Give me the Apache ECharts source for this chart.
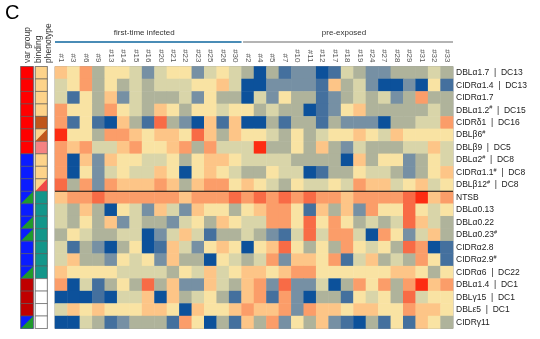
<!DOCTYPE html>
<html>
<head>
<meta charset="utf-8">
<script src="https://cdn.jsdelivr.net/npm/echarts@6/dist/echarts.min.js"></script>
<style>
  html, body { margin: 0; padding: 0; background: #fff; }
  #chart { width: 540px; height: 339px; }
</style>
</head>
<body>
<div id="chart"></div>
<script>
// Patient columns, split by exposure history
const firstTimeIds = ['#1','#3','#6','#9','#13','#14','#15','#16','#20','#21','#22','#23','#25','#26','#30'];
const preExposedIds = ['#2','#4','#5','#7','#10','#11','#12','#17','#18','#19','#24','#27','#28','#29','#31','#32','#33'];
const groupNames = ['first-time infected', 'pre-exposed'];

// Domain rows ("#" marks a superscript, "|" separates the domain cassette)
const domainLabels = [
  'DBLα1.7|DC13', 'CIDRα1.4|DC13', 'CIDRα1.7', 'DBLα1.2#|DC15', 'CIDRδ1|DC16',
  'DBLβ6#', 'DBLβ9|DC5', 'DBLα2#|DC8', 'CIDRα1.1#|DC8', 'DBLβ12#|DC8',
  'NTSB', 'DBLα0.13', 'DBLα0.22', 'DBLα0.23#', 'CIDRα2.8', 'CIDRα2.9#',
  'CIDRα6|DC22', 'DBLα1.4|DC1', 'DBLγ15|DC1', 'DBLε5|DC1', 'CIDRγ11'
];
const topBlockRows = 10;

// Annotation per domain row: var group and binding phenotype ("x/y" = split cell)
const varGroup = ['A','A','A','A','A','A','A','B','B','B','B/C','B','B/C','B/C','B','B','B/C','E','E','E','B/C'];
const bindingType = ['P1','P1','P1','P1','P2','P1/P2','P3','P1','P1','P1/P4','P5','P5','P5','P5','P5','P5','P5','none','none','none','none'];

// Relative transcript level per row (1 = lowest, 10 = highest), columns in order first-time then pre-exposed
const cellLevels = [
  [7,6,8,4,6,6,5,3,5,6,6,3,5,6,5, 4,1,4,2,3,3,1,2,5,4,3,3,4,4,4,5,4],
  [5,6,8,4,6,4,5,4,5,5,5,6,6,7,5, 1,1,3,3,3,3,2,7,4,5,3,1,1,3,1,6,2],
  [5,2,6,4,7,3,5,4,4,4,5,3,6,4,4, 1,5,3,6,4,4,2,3,4,5,4,5,3,4,8,4,4],
  [8,6,6,4,8,6,5,4,7,6,4,6,6,5,6, 6,4,5,4,4,1,2,3,6,7,4,4,4,4,4,5,4],
  [8,2,6,2,1,7,4,2,9,4,3,1,7,2,7, 1,1,4,2,4,4,2,4,3,3,3,1,4,4,5,5,8],
  [10,6,6,4,8,8,7,6,7,7,6,9,7,4,7, 6,6,5,4,6,4,5,6,6,7,6,5,7,6,6,6,6],
  [8,7,8,5,5,7,8,6,6,7,8,4,8,5,5, 5,10,4,4,6,4,7,4,3,5,4,4,4,5,5,7,5],
  [8,1,7,3,7,6,6,5,5,6,4,6,7,7,6, 5,5,5,5,4,4,4,4,1,7,4,6,6,3,4,6,5],
  [8,1,6,3,5,6,5,5,7,6,1,6,7,6,5, 4,4,6,5,5,1,2,4,4,6,5,5,4,3,4,6,7],
  [9,4,8,3,8,7,7,7,8,7,4,7,8,8,6, 7,6,5,4,6,5,5,6,5,8,7,7,5,6,7,5,6],
  [7,8,8,9,8,8,8,8,8,8,7,8,8,8,9, 8,9,8,9,8,9,8,8,7,8,8,8,8,9,10,7,8],
  [5,4,7,4,1,6,5,3,7,5,3,7,6,6,4, 6,7,8,8,6,2,7,4,7,3,8,6,6,9,6,5,6],
  [5,4,6,4,7,3,5,4,4,3,5,6,4,7,6, 5,5,8,8,6,9,6,8,6,4,5,4,5,9,7,5,4],
  [4,6,5,4,4,5,5,1,3,5,7,5,2,4,4, 5,4,3,2,5,9,5,8,8,5,1,8,6,3,5,7,4],
  [5,2,4,3,1,4,6,1,2,7,5,3,6,7,6, 1,6,7,9,6,4,6,4,8,6,5,6,4,9,8,1,2],
  [5,7,4,4,3,6,5,6,3,7,4,4,1,6,5, 4,5,8,3,7,7,6,8,2,5,7,4,5,4,8,6,2],
  [7,6,6,6,6,5,5,5,5,4,6,5,7,5,6, 7,7,6,7,8,8,6,6,6,6,6,6,7,7,6,4,6],
  [8,1,5,2,4,6,4,9,4,7,3,3,7,5,4, 7,8,3,9,3,3,5,1,4,8,6,8,4,8,10,7,8],
  [1,1,1,2,1,5,5,7,1,7,4,5,6,4,2, 7,8,2,8,3,1,4,4,2,6,5,6,4,9,5,6,6],
  [5,7,6,7,6,6,6,7,7,6,1,7,6,6,7, 8,7,7,8,3,8,7,7,6,7,7,6,6,8,7,7,6],
  [1,1,5,4,2,3,4,4,4,2,8,6,1,4,2, 7,4,8,3,6,4,7,3,2,1,4,2,6,2,7,6,4]
];

// ---- styling ----
const FONT = 'Liberation Sans, Arial, sans-serif';
const levelColors = ['#0c519b','#44709e','#7690a4','#afb39b','#d9d5a9','#f9e3a3','#fdc587','#fb9d69','#f86b46','#fd2c12'];
const varGroupColors = { A: '#ff0000', B: '#0a1cff', C: '#1f9a2c', E: '#c00000' };
const bindingColors = { P1: '#fdd38a', P2: '#c0561b', P3: '#f58282', P4: '#f04848', P5: '#13968a', none: '#ffffff' };

const columnIds = firstTimeIds.concat(preExposedIds);
const groupSpans = [
  [0, firstTimeIds.length - 1, 0],
  [firstTimeIds.length, columnIds.length - 1, 1]
];
const groupLineColors = ['#4a8cb6', '#b4b4b4'];

const heatData = [];
cellLevels.forEach((row, r) => row.forEach((v, c) => heatData.push([c, r, v])));

function rowLabel(v) {
  const parts = v.split('|');
  const name = parts[0];
  let out;
  if (name.endsWith('#')) out = '{n|' + name.slice(0, -1) + '}{s|#}';
  else out = '{n|' + name + '}';
  if (parts[1]) out += '{n|  |  ' + parts[1] + '}';
  return out;
}

// split-cell renderer used by both annotation strips
function annotationRenderer(codes, palette) {
  return function (params, api) {
    const r = api.value(0);
    const center = api.coord([0, r]);
    const size = api.size([1, 1]);
    const x = center[0] - size[0] / 2, y = center[1] - size[1] / 2;
    const w = size[0], h = size[1];
    const keys = codes[r].split('/');
    const children = [{
      type: 'rect',
      shape: { x: x, y: y, width: w, height: h },
      style: { fill: palette[keys[0]], stroke: '#555', lineWidth: 0.6 }
    }];
    if (keys[1]) {
      children.push({
        type: 'polygon',
        shape: { points: [[x + 0.3, y + h - 0.3], [x + w - 0.3, y + 0.3], [x + w - 0.3, y + h - 0.3]] },
        style: { fill: palette[keys[1]] }
      });
    }
    return { type: 'group', children: children };
  };
}

const GRID_TOP = 66.5;
const GRID_H = 262;

const chart = echarts.init(document.getElementById('chart'), null, { renderer: 'canvas' });
chart.setOption({
  animation: false,
  backgroundColor: '#fff',
  grid: [
    { left: 55, top: GRID_TOP, width: 398, height: GRID_H, show: true, borderColor: '#a0a0a0', borderWidth: 1, backgroundColor: 'transparent' },
    { left: 20.7, top: GRID_TOP, width: 12.6, height: GRID_H, show: true, borderColor: '#b0b0b0', borderWidth: 1.2 },
    { left: 35.3, top: GRID_TOP, width: 12, height: GRID_H, show: true, borderColor: '#b0b0b0', borderWidth: 1.2 }
  ],
  xAxis: [
    {
      type: 'category', gridIndex: 0, data: columnIds, position: 'top',
      axisLine: { show: false }, axisTick: { show: false }, splitLine: { show: false },
      axisLabel: { rotate: 90, fontSize: 8, color: '#555', margin: 4, fontFamily: FONT, interval: 0 }
    },
    { type: 'category', gridIndex: 1, data: ['v'], show: false },
    { type: 'category', gridIndex: 2, data: ['b'], show: false }
  ],
  yAxis: [
    {
      type: 'category', gridIndex: 0, data: domainLabels, inverse: true, position: 'right',
      axisLine: { show: false }, axisTick: { show: false }, splitLine: { show: false },
      axisLabel: {
        interval: 0, margin: 3, formatter: rowLabel,
        rich: {
          n: { fontSize: 8.5, color: '#222', fontFamily: FONT, lineHeight: 11 },
          s: { fontSize: 5.5, color: '#222', fontFamily: FONT, verticalAlign: 'top', lineHeight: 11 }
        }
      }
    },
    { type: 'category', gridIndex: 1, data: domainLabels, inverse: true, show: false },
    { type: 'category', gridIndex: 2, data: domainLabels, inverse: true, show: false }
  ],
  visualMap: {
    show: false, min: 1, max: 10, calculable: false, seriesIndex: 0,
    inRange: { color: levelColors }
  },
  series: [
    {
      type: 'heatmap', xAxisIndex: 0, yAxisIndex: 0, data: heatData,
      itemStyle: { borderWidth: 0 }, emphasis: { disabled: true }, silent: true
    },
    {
      type: 'custom', xAxisIndex: 1, yAxisIndex: 1, silent: true,
      data: varGroup.map((g, i) => [i]),
      renderItem: annotationRenderer(varGroup, varGroupColors)
    },
    {
      type: 'custom', xAxisIndex: 2, yAxisIndex: 2, silent: true,
      data: bindingType.map((g, i) => [i]),
      renderItem: annotationRenderer(bindingType, bindingColors)
    },
    // divider between the two domain blocks
    {
      type: 'custom', xAxisIndex: 0, yAxisIndex: 0, silent: true, clip: false,
      data: [[topBlockRows - 1]],
      renderItem: function (params, api) {
        const cs = params.coordSys;
        const c = api.coord([0, api.value(0)]);
        const h = api.size([1, 1])[1];
        const y = c[1] + h / 2;
        return { type: 'line', shape: { x1: cs.x, y1: y, x2: cs.x + cs.width, y2: y }, style: { stroke: '#111', lineWidth: 1.2 } };
      }
    },
    // exposure-group headers above the columns
    {
      type: 'custom', xAxisIndex: 0, yAxisIndex: 0, silent: true, clip: false,
      data: groupSpans,
      renderItem: function (params, api) {
        const cs = params.coordSys;
        const a = api.coord([api.value(0), 0]);
        const b = api.coord([api.value(1), 0]);
        const w = api.size([1, 1])[0];
        const idx = api.value(2);
        const x0 = a[0] - w / 2 + (idx === 1 ? 1.5 : 0);
        const x1 = b[0] + w / 2;
        const yLine = cs.y - 24.5;
        return {
          type: 'group',
          children: [
            { type: 'line', shape: { x1: x0, y1: yLine, x2: x1, y2: yLine }, style: { stroke: groupLineColors[idx], lineWidth: 2 } },
            { type: 'text', style: { x: (x0 + x1) / 2 - 4, y: yLine - 9, text: groupNames[idx], fill: '#333', fontSize: 8, fontFamily: FONT, textAlign: 'center', textVerticalAlign: 'middle' } }
          ]
        };
      }
    }
  ],
  graphic: [
    { type: 'text', left: 5, top: 3, style: { text: 'C', fontSize: 20, fontFamily: FONT, fill: '#000' } },
    { type: 'text', x: 28, y: 63, rotation: Math.PI / 2, style: { text: 'var group', fontSize: 8.5, fontFamily: FONT, fill: '#333', textAlign: 'left', textVerticalAlign: 'middle' } },
    { type: 'text', x: 39, y: 63, rotation: Math.PI / 2, style: { text: 'binding', fontSize: 8.5, fontFamily: FONT, fill: '#333', textAlign: 'left', textVerticalAlign: 'middle' } },
    { type: 'text', x: 48.5, y: 63, rotation: Math.PI / 2, style: { text: 'phenotype', fontSize: 8.5, fontFamily: FONT, fill: '#333', textAlign: 'left', textVerticalAlign: 'middle' } }
  ]
});
</script>
</body>
</html>
